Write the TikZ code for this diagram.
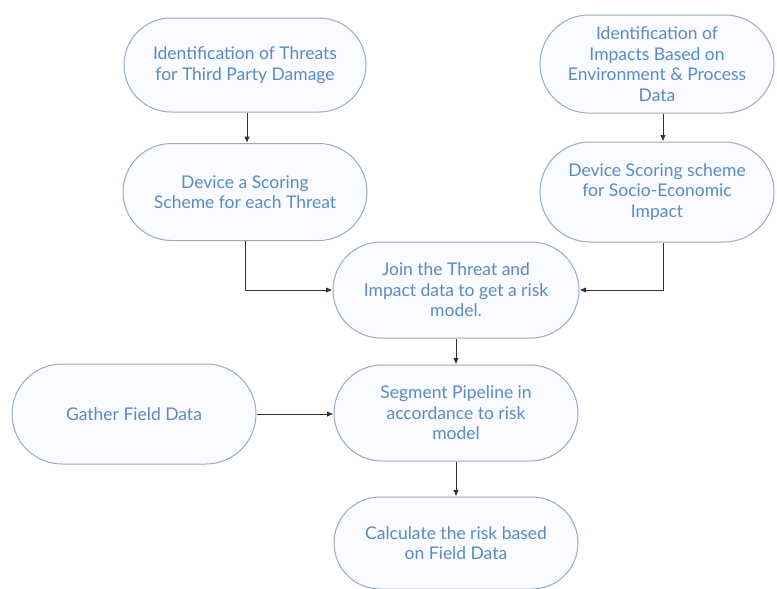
\documentclass[tikz,border=0pt]{standalone}
\usepackage{fontspec}
\setmainfont{Lato}
\usetikzlibrary{shapes.misc,arrows.meta}
\definecolor{txtblue}{HTML}{5B8BC2}
\definecolor{edgeblue}{HTML}{98ABC2}
\definecolor{fillblue}{HTML}{F9FBFE}
\definecolor{linegray}{HTML}{333333}
\tikzset{
  proc/.style={rounded rectangle, draw=edgeblue, line width=1pt, fill=fillblue,
    text=txtblue, align=center, font=\fontsize{17.5}{20.5}\selectfont,
    minimum width=246pt, minimum height=96pt, inner sep=2pt},
  conn/.style={draw=linegray, line width=1pt, -{Latex[length=6.5pt,width=5.5pt]}}
}
\begin{document}
\begin{tikzpicture}[x=1pt,y=-1pt]
\useasboundingbox (0,0) rectangle (777,589);
\node[proc, minimum height=94pt] (A) at (245,65) {Identification of Threats\\for Third Party Damage};
\node[proc, minimum width=238pt, minimum height=98pt] (B) at (657,64) {Identification of\\Impacts Based on\\Environment \& Process\\Data};
\node[proc, minimum width=248pt, minimum height=97pt] (C) at (245,192) {Device a Scoring\\Scheme for each Threat};
\node[proc, minimum width=238pt, minimum height=100pt] (D) at (657,192) {Device Scoring scheme\\for Socio-Economic\\Impact};
\node[proc, minimum width=250pt] (E) at (456,290) {Join the Threat and\\Impact data to get a risk\\model.};
\node[proc, minimum width=248pt] (F) at (456,413) {Segment Pipeline in\\accordance to risk\\model};
\node[proc, minimum width=248pt, minimum height=100pt] (G) at (134,414) {Gather Field Data};
\node[proc, minimum width=248pt, minimum height=92pt] (H) at (456,543) {Calculate the risk based\\on Field Data};
\draw[conn] ([xshift=2pt]A.south) -- ([xshift=2pt]C.north);
\draw[conn] ([xshift=6pt]B.south) -- ([xshift=6pt]D.north);
\draw[conn] (C.south) |- (E.west);
\draw[conn] ([xshift=6pt]D.south) |- (E.east);
\draw[conn] (E.south) -- (F.north);
\draw[conn] (G.east) -- (G.east -| F.west);
\draw[conn] (F.south) -- (H.north);
\end{tikzpicture}
\end{document}
